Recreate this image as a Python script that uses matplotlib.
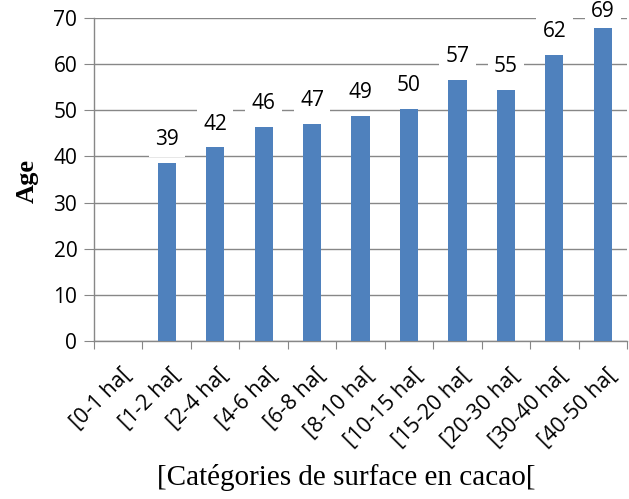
import matplotlib
matplotlib.use("Agg")
import matplotlib.pyplot as plt
import numpy as np

categories = ["[0-1 ha[", "[1-2 ha[", "[2-4 ha[", "[4-6 ha[", "[6-8 ha[", "[8-10 ha[",
              "[10-15 ha[", "[15-20 ha[", "[20-30 ha[", "[30-40 ha[", "[40-50 ha["]
ages = [np.nan, 38.6, 42.0, 46.4, 47.1, 48.8, 50.3, 56.6, 54.4, 62.0, 67.9]
age_labels = ["", "39", "42", "46", "47", "49", "50", "57", "55", "62", "69"]
yticks = [0, 10, 20, 30, 40, 50, 60, 70]

fig = plt.figure(figsize=(6.29, 4.99), dpi=100)
ax = fig.add_axes([0.1494, 0.3166, 0.8476, 0.6474])

x = np.arange(len(categories))
ax.bar(x, ages, width=0.375, color="#4F81BD", zorder=3)

grid_col = "#878787"
ax.set_ylim(0, 70)
ax.set_xlim(-0.5, len(categories) - 0.5)
ax.set_yticks(yticks)
ax.yaxis.grid(True, color=grid_col, linewidth=1.0, zorder=0)
ax.set_axisbelow(True)
for s in ["top", "right"]:
    ax.spines[s].set_visible(False)
for s in ["left", "bottom"]:
    ax.spines[s].set_color(grid_col)
    ax.spines[s].set_linewidth(1.0)

ax.tick_params(axis="y", direction="out", length=7, color=grid_col, labelsize=15, pad=5)
ax.set_yticklabels([str(v) for v in yticks], fontfamily="Open Sans")

# x ticks at category boundaries
ax.set_xticks(np.arange(-0.5, len(categories) + 0.5, 1.0))
ax.set_xticklabels([])
ax.tick_params(axis="x", direction="out", length=6, color=grid_col)
for xi, lab in zip(x, categories):
    ax.annotate(lab, xy=(xi, 0), xycoords=("data", "axes fraction"),
                xytext=(10, -25), textcoords="offset points",
                rotation=45, ha="right", va="baseline", rotation_mode="anchor",
                fontsize=15.5, fontfamily="Open Sans")

for xi, v, lab in zip(x, ages, age_labels):
    if lab:
        ax.text(xi, min(v + 5.0, 71.5), lab, ha="center", va="center",
                fontsize=15, fontfamily="Open Sans", clip_on=False,
                bbox=dict(boxstyle="square,pad=0.3", fc="white", ec="none"),
                zorder=4)

fig.text(0.043, 0.637, "Age", rotation=90, ha="center", va="center",
         fontsize=19, fontweight="bold", fontfamily="Liberation Serif")
fig.text(0.551, 0.043, "[Catégories de surface en cacao[", ha="center", va="center",
         fontsize=21, fontfamily="Liberation Serif")

fig.savefig("out.png", dpi=100)
